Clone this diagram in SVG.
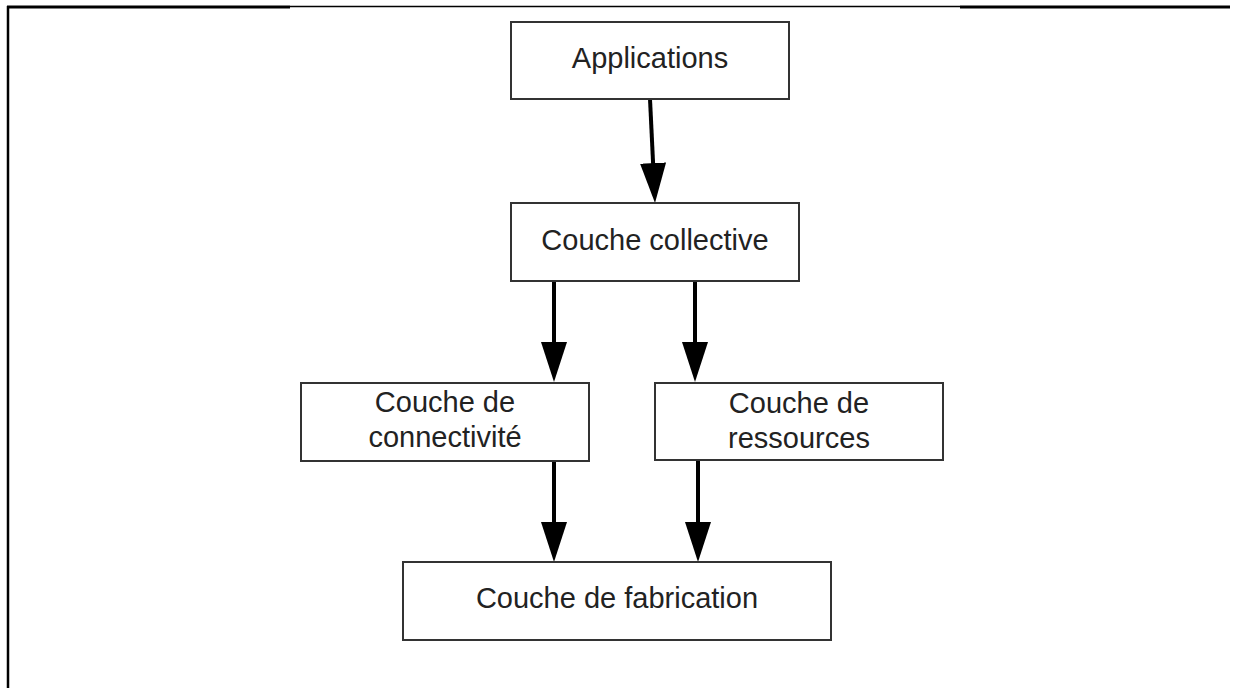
<svg xmlns="http://www.w3.org/2000/svg" width="1233" height="688" viewBox="0 0 1233 688">
  <defs>
    <style>
      .box { fill: #ffffff; stroke: #333333; stroke-width: 2; }
      .lbl { font-family: "Liberation Sans", Arial, sans-serif; font-size: 29px; fill: #222222; text-anchor: middle; }
      .edge { fill: none; stroke: #000000; stroke-width: 4; marker-end: url(#head); }
      .frame { stroke: #000000; fill: none; }
    </style>
    <marker id="head" markerUnits="userSpaceOnUse" markerWidth="40" markerHeight="26" refX="20" refY="13" orient="auto" viewBox="0 0 40 26">
      <path d="M0,0 L40,13 L0,26 Z" fill="#000000"/>
    </marker>
  </defs>

  <rect width="1233" height="688" fill="#ffffff"/>

  <!-- page frame -->
  <g id="frame">
    <line class="frame" x1="8" y1="6" x2="8" y2="688" stroke-width="2.5"/>
    <line class="frame" x1="7" y1="7" x2="290" y2="7" stroke-width="3"/>
    <line class="frame" x1="290" y1="6.5" x2="960" y2="6.5" stroke-width="1.6"/>
    <line class="frame" x1="960" y1="7" x2="1230" y2="7" stroke-width="3"/>
  </g>

  <!-- connectors -->
  <g id="connectors">
    <path class="edge" d="M650,99 L654.04,183"/>
    <path class="edge" d="M554,282 L554,362"/>
    <path class="edge" d="M695,282 L695,362"/>
    <path class="edge" d="M554,461 L554,542"/>
    <path class="edge" d="M698,461 L698,542"/>
  </g>

  <g id="applications">
    <rect class="box" x="511" y="22" width="278" height="77"/>
    <text class="lbl" x="650" y="68">Applications</text>
  </g>

  <g id="collective">
    <rect class="box" x="511" y="203" width="288" height="78"/>
    <text class="lbl" x="655" y="250">Couche collective</text>
  </g>

  <g id="connectivite">
    <rect class="box" x="301" y="383" width="288" height="78"/>
    <text class="lbl" x="445" y="412">Couche de</text>
    <text class="lbl" x="445" y="447">connectivité</text>
  </g>

  <g id="ressources">
    <rect class="box" x="655" y="383" width="288" height="77"/>
    <text class="lbl" x="799" y="413">Couche de</text>
    <text class="lbl" x="799" y="448">ressources</text>
  </g>

  <g id="fabrication">
    <rect class="box" x="403" y="562" width="428" height="78"/>
    <text class="lbl" x="617" y="608">Couche de fabrication</text>
  </g>
</svg>
